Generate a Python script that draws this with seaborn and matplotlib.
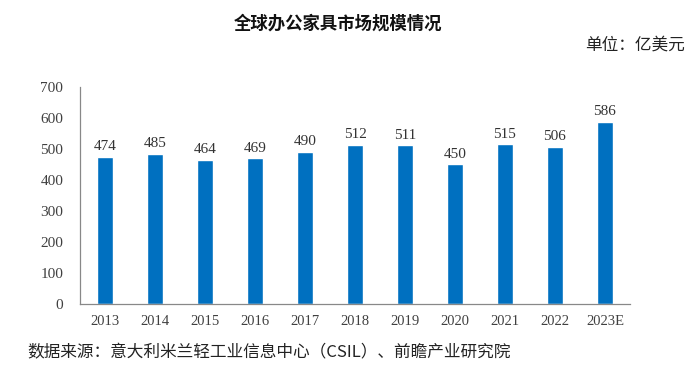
import matplotlib
matplotlib.use('Agg')
import matplotlib.pyplot as plt
import seaborn as sns
import pandas as pd
from matplotlib.ticker import FixedLocator

# data
years = ['2013', '2014', '2015', '2016', '2017', '2018', '2019', '2020', '2021', '2022', '2023E']
market_size = [474, 485, 464, 469, 490, 512, 511, 450, 515, 506, 586]
yticks = [0, 100, 200, 300, 400, 500, 600, 700]

df = pd.DataFrame({'year': years, 'size': market_size})

sns.set_style('white')
plt.rcParams['font.family'] = ['Liberation Serif', 'Noto Sans CJK SC']
cjk = ['Noto Sans CJK SC', 'DejaVu Sans']

fig = plt.figure(figsize=(6.9, 3.68), dpi=100)
ax = fig.add_axes([0.116, 0.174, 0.797, 0.590])

sns.barplot(data=df, x='year', y='size', color='#0070C0', width=0.32,
            saturation=1, ax=ax)

# value labels
for i, v in enumerate(market_size):
    ax.text(i, v + 12, str(v), ha='center', va='bottom', fontsize=11,
            color='#333333')

ax.set_xlim(-0.5, len(years) - 0.5)
ax.set_ylim(0, 700)
ax.set_yticks(yticks)
ax.set_xlabel('')
ax.set_ylabel('')
ax.tick_params(axis='y', length=0, labelsize=11, labelcolor='#404040', pad=12)
ax.tick_params(axis='x', which='major', length=0, labelsize=10.5,
               labelcolor='#404040', pad=8)
ax.xaxis.set_minor_locator(FixedLocator([i - 0.5 for i in range(len(years) + 1)]))
ax.tick_params(axis='x', which='minor', direction='in', length=3,
               color='#888888', width=0.8)

for side in ['top', 'right']:
    ax.spines[side].set_visible(False)
for side in ['left', 'bottom']:
    ax.spines[side].set_color('#888888')
    ax.spines[side].set_linewidth(0.9)

# titles and notes
fig.text(0.49, 0.935, '全球办公家具市场规模情况', ha='center', va='center',
         fontsize=12.5, fontweight='bold', family=cjk, color='#111111')
fig.text(0.993, 0.877, '单位：亿美元', ha='right', va='center', fontsize=12,
         family=cjk, color='#222222')
fig.text(0.04, 0.04, '数据来源：意大利米兰轻工业信息中心（CSIL）、前瞻产业研究院',
         ha='left', va='center', fontsize=12, family=cjk, color='#222222')

fig.savefig('out.png', dpi=100)
